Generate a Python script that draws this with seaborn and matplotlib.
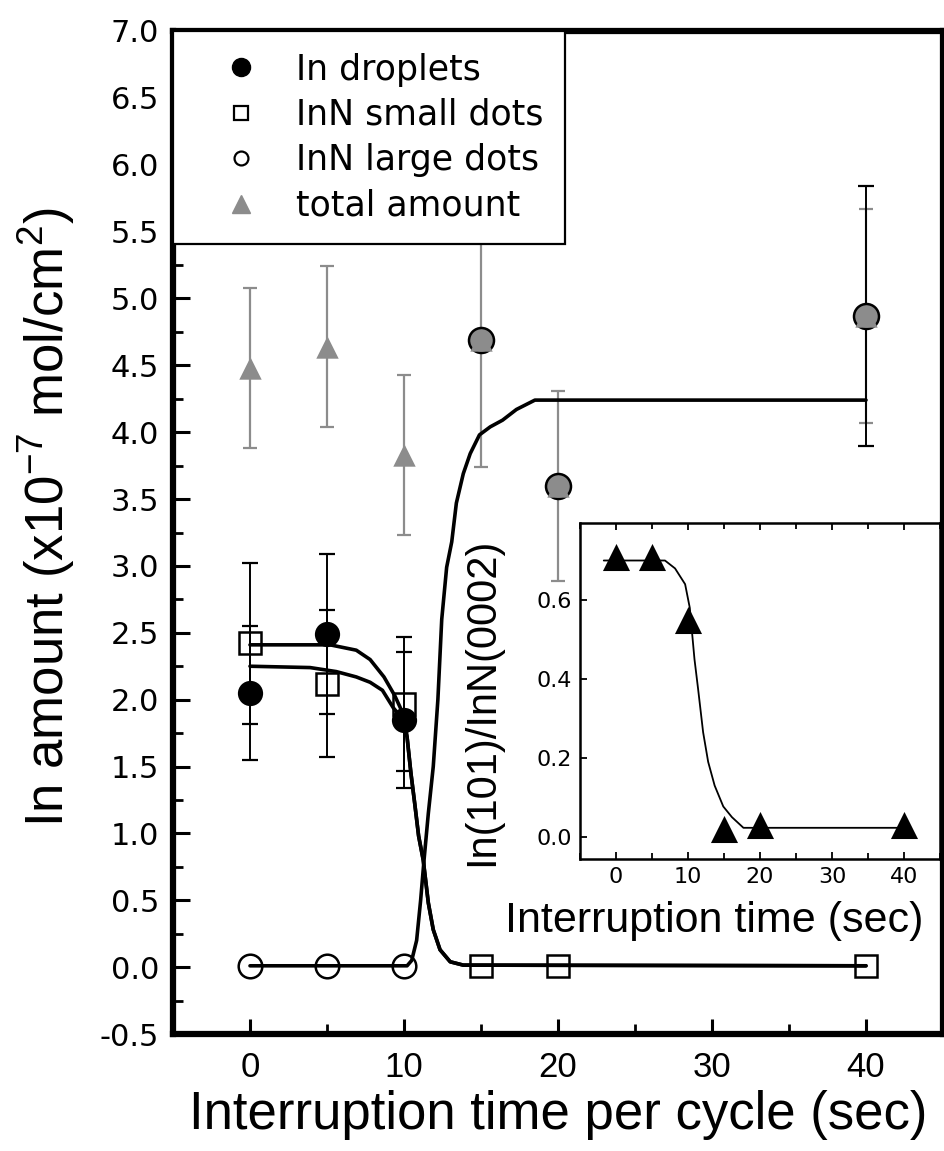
import numpy as np
import pandas as pd
import matplotlib
matplotlib.use("Agg")
import matplotlib.pyplot as plt
import seaborn as sns
from matplotlib.lines import Line2D
from matplotlib.ticker import MultipleLocator, FixedLocator, FormatStrFormatter
from matplotlib import font_manager as fm

# ---------------- data ----------------
time = [0, 5, 10, 15, 20, 40]

droplet_time = [0, 5, 10]
droplet_amt = [2.05, 2.49, 1.85]
droplet_err = [0.50, 0.60, 0.51]

small_amt = [2.42, 2.12, 1.97, 0.01, 0.01, 0.01]
small_err = [0.60, 0.55, 0.50, 0.0, 0.0, 0.0]

large_amt = [0.01, 0.01, 0.01, 4.69, 3.60, 4.87]
large_err = [0.0, 0.0, 0.0, 0.0, 0.0, 0.97]

total_amt = [4.48, 4.64, 3.83, 4.69, 3.60, 4.87]
total_err = [0.60, 0.60, 0.60, 0.95, 0.71, 0.80]

# fitted curves
fit_small_x = [0, 5.2, 6.9, 7.8, 8.7, 9.4, 10.0, 10.2, 10.45, 10.7, 10.95, 11.25,
               11.58, 11.9, 12.34, 13.0, 13.85, 40]
fit_small_y = [2.41, 2.41, 2.37, 2.30, 2.17, 2.03, 1.88, 1.72, 1.45, 1.22, 0.98, 0.80,
               0.48, 0.28, 0.13, 0.04, 0.015, 0.01]
fit_drop_x = [0, 3.9, 5.6, 6.9, 7.8, 8.6, 9.3, 9.95, 10.2, 10.45, 10.7, 10.95, 11.25,
              11.58, 11.9, 12.34, 13.0, 13.85, 40]
fit_drop_y = [2.25, 2.24, 2.21, 2.17, 2.13, 2.07, 1.94, 1.85, 1.72, 1.45, 1.22, 0.98, 0.80,
              0.48, 0.28, 0.13, 0.04, 0.015, 0.01]
fit_large_x = [0, 10.2, 10.5, 10.82, 11.08, 11.3, 11.58, 11.9, 12.2, 12.45, 12.77, 13.1,
               13.4, 13.85, 14.3, 14.9, 15.6, 16.4, 17.3, 18.5, 40]
fit_large_y = [0.01, 0.01, 0.05, 0.2, 0.5, 0.8, 1.15, 1.5, 2.0, 2.6, 2.99, 3.18,
               3.47, 3.69, 3.84, 3.98, 4.04, 4.09, 4.17, 4.24, 4.24]

# inset
inset_time = [0, 5, 10, 15, 20, 40]
inset_ratio = [0.71, 0.71, 0.55, 0.02, 0.03, 0.03]
inset_fit_x = [-1.7, 6.8, 8.2, 9.6, 10.25, 10.5, 10.9, 11.4, 12.1, 12.8, 13.7, 14.9,
               16.1, 17.7, 40]
inset_fit_y = [0.70, 0.70, 0.68, 0.64, 0.58, 0.53, 0.45, 0.375, 0.265, 0.19, 0.13,
               0.077, 0.05, 0.023, 0.023]
inset_yticks = [0.0, 0.2, 0.4, 0.6]

legend_labels = ["In droplets", "InN small dots", "InN large dots", "total amount"]
xlabel = "Interruption time per cycle (sec)"
ylabel = r"In amount (x10$^{\mathregular{-7}}$ mol/cm$^{\mathregular{2}}$)"
inset_xlabel = "Interruption time (sec)"
inset_ylabel = "In(101)/InN(0002)"

# ---------------- style ----------------
sns.set_theme(style="ticks")
avail = {f.name for f in fm.fontManager.ttflist}
LAB = "Liberation Sans" if "Liberation Sans" in avail else "DejaVu Sans"
plt.rcParams["font.family"] = [LAB, "DejaVu Sans"]
plt.rcParams["mathtext.fontset"] = "custom"
plt.rcParams["mathtext.rm"] = LAB
plt.rcParams["axes.linewidth"] = 4.5
plt.rcParams["text.color"] = "black"

GRAY = "#8c8c8c"

fig = plt.figure(figsize=(9.44, 11.51), dpi=100)
ax = fig.add_axes([173 / 944, 1 - 1034 / 1151, 770 / 944, 1003 / 1151])

t = np.array(time)
sel = np.array(total_err) > 0
ax.errorbar(t[sel], np.array(total_amt)[sel], yerr=np.array(total_err)[sel], fmt="none",
            ecolor=GRAY, elinewidth=1.6, capsize=5, capthick=1.6, zorder=2)

for fx, fy in [(fit_small_x, fit_small_y), (fit_drop_x, fit_drop_y), (fit_large_x, fit_large_y)]:
    sns.lineplot(x=fx, y=fy, color="black", lw=2.6, sort=False, estimator=None, ax=ax, zorder=4)

sel = np.array(large_err) > 0
ax.errorbar(t[sel], np.array(large_amt)[sel], yerr=np.array(large_err)[sel], fmt="none",
            ecolor="black", elinewidth=1.4, capsize=6, capthick=1.6, zorder=4)
# large dots: open where alone, grey-filled where they coincide with the total amount
ax.plot(time[:3], large_amt[:3], ls="none", marker="o", ms=17, mfc="none", mec="black",
        mew=1.8, zorder=5)
ax.plot(time[3:], large_amt[3:], ls="none", marker="o", ms=18, mfc=GRAY, mec="black",
        mew=1.8, zorder=5)
sns.scatterplot(x=time, y=total_amt, marker="^", s=260, color=GRAY, edgecolor=GRAY,
                linewidth=0, ax=ax, zorder=6)

sel = np.array(small_err) > 0
ax.errorbar(t[sel], np.array(small_amt)[sel], yerr=np.array(small_err)[sel], fmt="none",
            ecolor="black", elinewidth=1.4, capsize=6, capthick=1.6, zorder=4)
ax.plot(time, small_amt, ls="none", marker="s", ms=16, mfc="none", mec="black", mew=1.8, zorder=5)

ax.errorbar(droplet_time, droplet_amt, yerr=droplet_err, fmt="none",
            ecolor="black", elinewidth=1.4, capsize=6, capthick=1.6, zorder=4)
sns.scatterplot(x=droplet_time, y=droplet_amt, marker="o", s=330, color="black",
                edgecolor="black", linewidth=0, ax=ax, zorder=6)

ax.set_xlim(-5, 45)
ax.set_ylim(-0.5, 7.0)
ax.xaxis.set_major_locator(MultipleLocator(10))
ax.xaxis.set_minor_locator(MultipleLocator(5))
ax.yaxis.set_major_locator(MultipleLocator(0.5))
ax.yaxis.set_minor_locator(MultipleLocator(0.25))
ax.yaxis.set_major_formatter(FormatStrFormatter("%.1f"))
ax.tick_params(axis="both", which="both", direction="in", top=False, right=False,
               color="black", labelcolor="black")
ax.tick_params(axis="y", which="major", length=12, width=2.2, pad=10, labelsize=22)
ax.tick_params(axis="y", which="minor", length=7, width=2.0)
ax.tick_params(axis="x", which="major", length=11, width=2.2, pad=12, labelsize=25)
ax.tick_params(axis="x", which="minor", length=7, width=2.0)
for lab in ax.get_yticklabels():
    lab.set_family("DejaVu Sans")
for s in ax.spines.values():
    s.set_color("black")
    s.set_linewidth(4.5)

ax.set_xlabel(xlabel, fontsize=38, color="black")
ax.set_ylabel(ylabel, fontsize=38, color="black")
ax.xaxis.set_label_coords(0.5, -0.056)
ax.yaxis.set_label_coords(-0.125, 0.515)

handles = [
    Line2D([], [], ls="none", marker="o", ms=13, mfc="black", mec="black"),
    Line2D([], [], ls="none", marker="s", ms=10, mfc="none", mec="black", mew=1.6),
    Line2D([], [], ls="none", marker="o", ms=10, mfc="none", mec="black", mew=1.6),
    Line2D([], [], ls="none", marker="^", ms=13, mfc=GRAY, mec=GRAY),
]
leg = ax.legend(handles, legend_labels, loc="upper left", bbox_to_anchor=(0, 1),
                borderaxespad=0, frameon=True, fancybox=False, framealpha=1,
                edgecolor="black", prop={"family": "DejaVu Sans", "size": 25},
                handlelength=2.7, handletextpad=0.22, labelspacing=0.33, borderpad=0.62)
leg.get_frame().set_linewidth(1.6)
leg.set_zorder(10)
for txt in leg.get_texts():
    txt.set_color("black")

# ---------------- inset ----------------
ax2 = fig.add_axes([580 / 944, 1 - 859 / 1151, 360 / 944, 336 / 1151])
ax2.set_facecolor("white")
sns.lineplot(x=inset_fit_x, y=inset_fit_y, color="black", lw=1.3, sort=False,
             estimator=None, ax=ax2, zorder=3)
sns.scatterplot(x=inset_time, y=inset_ratio, marker="^", s=380, color="black",
                edgecolor="black", linewidth=0, ax=ax2, zorder=4)
ax2.set_xlim(-5, 45)
ax2.set_ylim(-0.056, 0.795)
ax2.xaxis.set_major_locator(MultipleLocator(10))
ax2.xaxis.set_minor_locator(MultipleLocator(5))
ax2.yaxis.set_major_locator(FixedLocator(inset_yticks))
ax2.yaxis.set_major_formatter(FormatStrFormatter("%.1f"))
ax2.tick_params(axis="both", which="both", direction="in", top=True, right=False,
                color="black", labelcolor="black", width=1.3)
ax2.tick_params(axis="both", which="major", length=5, pad=6, labelsize=16)
ax2.tick_params(axis="both", which="minor", length=4)
for lab in ax2.get_xticklabels() + ax2.get_yticklabels():
    lab.set_family("DejaVu Sans")
for s in ax2.spines.values():
    s.set_color("black")
    s.set_linewidth(1.8)
ax2.set_xlabel(inset_xlabel, fontsize=31, color="black")
ax2.set_ylabel(inset_ylabel, fontsize=30, color="black")
ax2.xaxis.set_label_coords(0.372, -0.125)
ax2.yaxis.set_label_coords(-0.215, 0.467)

fig.savefig("out.png", dpi=100)
